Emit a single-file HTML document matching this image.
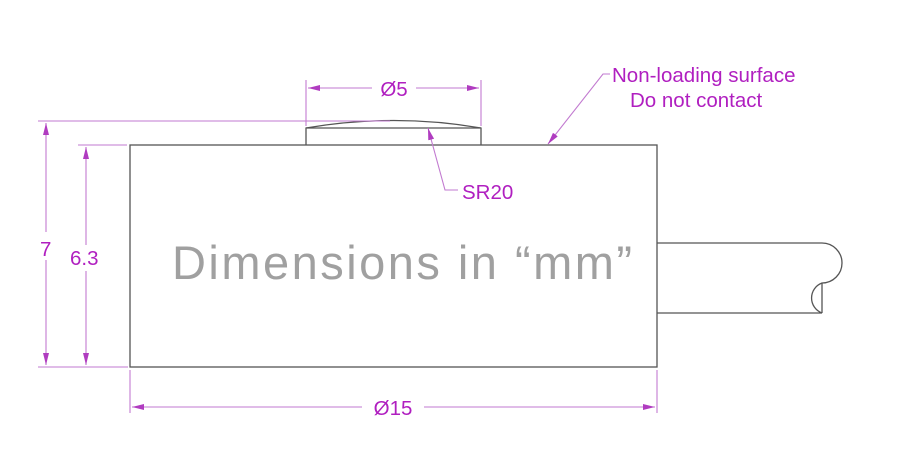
<!DOCTYPE html>
<html><head><meta charset="utf-8"><style>
html,body{margin:0;padding:0;background:#fff;}
svg{display:block;}
</style></head><body>
<svg width="897" height="466" viewBox="0 0 897 466" xmlns="http://www.w3.org/2000/svg">
<defs>
<marker id="a" viewBox="0 0 12 6" refX="12" refY="3" markerWidth="12" markerHeight="6" orient="auto-start-reverse" markerUnits="userSpaceOnUse">
<path d="M0,0 L12,3 L0,6 z" fill="#b03cc0"/>
</marker>
</defs>
<g fill="none" stroke="#555" stroke-width="1.3">
<rect x="130" y="145" width="527" height="222"/>
<path d="M306,145 L306,128 Q394,113 481,128 L481,145"/>
<line x1="306" y1="128" x2="481" y2="128"/>
<path d="M657,243 L822,243 A20,20 0 0 1 822,283 A16,16 0 0 0 822,313 L657,313"/>
<line x1="822" y1="283" x2="822" y2="313"/>
</g>
<g fill="none" stroke="#c27ad0" stroke-width="1.1">
<line x1="38" y1="121" x2="390" y2="121"/>
<line x1="38" y1="367" x2="128" y2="367"/>
<line x1="78" y1="145" x2="127" y2="145"/>
<line x1="46" y1="123" x2="46" y2="365" marker-start="url(#a)" marker-end="url(#a)"/>
<line x1="86" y1="147" x2="86" y2="365" marker-start="url(#a)" marker-end="url(#a)"/>
<line x1="306" y1="80" x2="306" y2="126"/>
<line x1="481" y1="80" x2="481" y2="126"/>
<line x1="308" y1="88" x2="479" y2="88" marker-start="url(#a)" marker-end="url(#a)"/>
<line x1="130" y1="370" x2="130" y2="413"/>
<line x1="657" y1="370" x2="657" y2="413"/>
<line x1="132" y1="407" x2="655" y2="407" marker-start="url(#a)" marker-end="url(#a)"/>
<polyline points="458,190 445,190 428,128" marker-end="url(#a)"/>
<polyline points="610,74 603,74 548,144" marker-end="url(#a)"/>
</g>
<g font-family="Liberation Sans, sans-serif" fill="#b01fc0" font-size="20.5">
<rect x="372" y="76" width="44" height="24" fill="#fff"/>
<text x="394" y="96" text-anchor="middle">Ø5</text>
<rect x="362" y="395" width="62" height="24" fill="#fff"/>
<text x="393" y="415" text-anchor="middle">Ø15</text>
<rect x="36" y="232" width="20" height="28" fill="#fff"/>
<text x="40" y="256">7</text>
<rect x="68" y="245" width="38" height="26" fill="#fff"/>
<text x="70" y="265">6.3</text>
<text x="462" y="199">SR20</text>
<text x="612" y="82">Non-loading surface</text>
<text x="630" y="107">Do not contact</text>
</g>
<text x="172" y="279" font-family="Liberation Sans, sans-serif" font-size="47" fill="#a0a0a0" textLength="460" lengthAdjust="spacing">Dimensions in “mm”</text>
</svg>
</body></html>
